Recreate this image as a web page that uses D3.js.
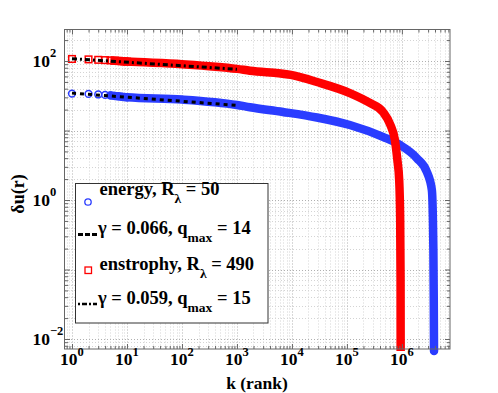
<!DOCTYPE html>
<html><head><meta charset="utf-8">
<script src="https://cdn.jsdelivr.net/npm/d3@7"></script>
<style>
body{margin:0;background:#fff}
svg{display:block}
</style>
</head><body><svg id="c" width="498" height="393"></svg>
<script>
// ---- data ----
const xDomain = [0.746, 7.5e6];
const yDomain = [0.00718, 284];
const xTickExps = [0, 1, 2, 3, 4, 5, 6];
const yTickExps = [-2, 0, 2];

const markerRanks = [1, 2, 3, 4, 5, 6, 7, 8, 9, 10];
const energyMarkers = [34.0, 33.6, 33.0, 32.5, 32.0, 31.6, 31.2, 30.8, 30.4, 30.0];
const enstrophyMarkers = [107, 105.5, 104, 103, 102, 101.2, 100.4, 99.6, 98.8, 98];

const energyRank  = [5, 10, 100, 1000, 1722, 6860, 28500, 113000, 452000, 920000, 1.87e6, 2.85e6, 3.51e6, 3.74e6, 3.80e6, 3.84e6];
const energyValue = [32.0, 30.0, 27.9, 23.3, 21.6, 18.5, 15.4, 12.0, 8.1, 6.2, 4.0, 2.53, 1.39, 0.19, 0.0364, 0.0067];

const enstrophyRank  = [5, 10, 100, 1000, 1722, 9590, 28500, 113000, 262000, 452000, 618000, 746000, 828000, 893000, 931000, 946000, 950000];
const enstrophyValue = [101.5, 98, 90, 77, 72.5, 63, 49.9, 34.6, 24.9, 18.5, 12.0, 7.3, 3.77, 1.94, 0.515, 0.0706, 0.0067];

const fitRank = [1, 1000];
const energyFit = [34.5, 23.0];
const enstrophyFit = [108, 76];

const legendRows = [
  [["energy, R", 0], ["λ", 1], [" = 50", 0]],
  [["γ = 0.066, q", 0], ["max", 1], [" = 14", 0]],
  [["enstrophy, R", 0], ["λ", 1], [" = 490", 0]],
  [["γ = 0.059, q", 0], ["max", 1], [" = 15", 0]]
];

const BLUE = "#2a3cff", RED = "#ff0000";
const FONT = "Liberation Serif";

// ---- scales ----
const svg = d3.select("#c");
const L = 65, R = 450, T = 29.5, B = 349;
const x = d3.scaleLog().domain(xDomain).range([L, R]);
const y = d3.scaleLog().domain(yDomain).range([B, T]);

function logValues(dom, minor) {
  const out = [];
  const e0 = Math.floor(Math.log10(dom[0])), e1 = Math.ceil(Math.log10(dom[1]));
  for (let e = e0; e <= e1; e++) {
    const ms = minor ? [2,3,4,5,6,7,8,9] : [1];
    for (const m of ms) {
      const v = m * Math.pow(10, e);
      if (v >= dom[0] && v <= dom[1]) out.push(v);
    }
  }
  return out;
}
const xMajor = logValues(xDomain, false), xMinor = logValues(xDomain, true);
const yMajor = logValues(yDomain, false), yMinor = logValues(yDomain, true);

function txt(parent) {
  return parent.append("text").attr("font-family", FONT).attr("font-weight", "bold").attr("fill", "#000");
}

// ---- grid ----
const grid = svg.append("g");
function vgrid(vals, col) {
  grid.selectAll(null).data(vals).enter().append("line")
    .attr("x1", d => Math.round(x(d)) + 0.5).attr("x2", d => Math.round(x(d)) + 0.5)
    .attr("y1", T).attr("y2", B)
    .attr("stroke", col).attr("stroke-width", 1).attr("stroke-dasharray", "1,2");
}
function hgrid(vals, col) {
  grid.selectAll(null).data(vals).enter().append("line")
    .attr("y1", d => Math.round(y(d)) + 0.5).attr("y2", d => Math.round(y(d)) + 0.5)
    .attr("x1", L).attr("x2", R)
    .attr("stroke", col).attr("stroke-width", 1).attr("stroke-dasharray", "1,2");
}
vgrid(xMinor, "#d4d4d4"); hgrid(yMinor, "#d4d4d4");
vgrid(xMajor, "#b0b0b0"); hgrid(yMajor, "#b0b0b0");

// ---- curves ----
const line = d3.line().x(d => x(d[0])).y(d => y(d[1])).curve(d3.curveMonotoneX);
const energyPts = energyRank.map((k, i) => [k, energyValue[i]]);
const enstPts = enstrophyRank.map((k, i) => [k, enstrophyValue[i]]);

svg.append("path").attr("d", line(energyPts)).attr("fill", "none")
  .attr("stroke", BLUE).attr("stroke-width", 8.5).attr("stroke-linecap", "round").attr("stroke-linejoin", "round");
svg.selectAll(null).data(markerRanks).enter().append("circle")
  .attr("cx", d => x(d)).attr("cy", (d, i) => y(energyMarkers[i])).attr("r", 3.4)
  .attr("fill", "none").attr("stroke", BLUE).attr("stroke-width", 1.5);

svg.append("path").attr("d", line(enstPts)).attr("fill", "none")
  .attr("stroke", RED).attr("stroke-width", 8.5).attr("stroke-linecap", "butt").attr("stroke-linejoin", "round");
svg.selectAll(null).data(markerRanks).enter().append("rect")
  .attr("x", d => x(d) - 3.3).attr("y", (d, i) => y(enstrophyMarkers[i]) - 3.3)
  .attr("width", 6.6).attr("height", 6.6)
  .attr("fill", "none").attr("stroke", RED).attr("stroke-width", 1.5);

// ---- fits ----
const fitLine = d3.line().x(d => x(d[0])).y(d => y(d[1]));
svg.append("path").attr("d", fitLine(fitRank.map((k, i) => [k, energyFit[i]])))
  .attr("fill", "none").attr("stroke", "#000").attr("stroke-width", 3).attr("stroke-dasharray", "4,4");
svg.append("path").attr("d", fitLine(fitRank.map((k, i) => [k, enstrophyFit[i]])))
  .attr("fill", "none").attr("stroke", "#000").attr("stroke-width", 3).attr("stroke-dasharray", "5,3,2,3");

// ---- frame & ticks ----
svg.append("rect").attr("x", L - 0.5).attr("y", T).attr("width", R - L + 0.5).attr("height", B - T)
  .attr("fill", "none").attr("stroke", "#666").attr("stroke-width", 1);

function ax(gen, tr, vals, size) {
  const g = svg.append("g").attr("transform", tr)
    .call(gen.tickValues(vals).tickSize(-size).tickFormat(() => ""));
  g.select(".domain").remove();
  g.selectAll(".tick line").attr("stroke", "#666");
  return g;
}
ax(d3.axisBottom(x), `translate(0,${B})`, xMajor, 5);
ax(d3.axisBottom(x), `translate(0,${B})`, xMinor, 3);
ax(d3.axisTop(x), `translate(0,${T})`, xMajor, 5);
ax(d3.axisTop(x), `translate(0,${T})`, xMinor, 3);
ax(d3.axisLeft(y), `translate(${L},0)`, yMajor, 5);
ax(d3.axisLeft(y), `translate(${L},0)`, yMinor, 3);
ax(d3.axisRight(y), `translate(${R},0)`, yMajor, 5);
ax(d3.axisRight(y), `translate(${R},0)`, yMinor, 3);

// ---- tick labels ----
xTickExps.forEach(e => {
  const t = txt(svg).attr("x", x(Math.pow(10, e))).attr("y", 365)
    .attr("text-anchor", "middle").attr("font-size", 17.5);
  t.append("tspan").text("10");
  t.append("tspan").attr("dy", -9.5).attr("font-size", 12.5).text(String(e).replace("-", "\u2212"));
});
yTickExps.forEach(e => {
  const t = txt(svg).attr("x", 32.5).attr("y", y(Math.pow(10, e)) + 6)
    .attr("text-anchor", "start").attr("font-size", 17.5);
  t.append("tspan").text("10");
  t.append("tspan").attr("dy", -10.5).attr("font-size", 12.5).text(String(e).replace("-", "\u2212"));
});

// ---- axis titles ----
txt(svg).attr("x", 257).attr("y", 388.5).attr("text-anchor", "middle")
  .attr("font-size", 17.5).text("k (rank)");
txt(svg).attr("transform", "translate(24,194) rotate(-90)").attr("text-anchor", "middle")
  .attr("font-size", 18).text("δu(r)");

// ---- legend ----
const lg = svg.append("g");
lg.append("rect").attr("x", 75.5).attr("y", 183.5).attr("width", 192.5).attr("height", 139.5)
  .attr("fill", "#fff").attr("stroke", "#333").attr("stroke-width", 1);
const rowBase = [195, 234, 269.5, 304];
const rowX = [99.5, 98, 99.5, 98];
legendRows.forEach((parts, r) => {
  const t = txt(lg).attr("x", rowX[r]).attr("y", rowBase[r]).attr("font-size", 18.5);
  let shifted = false;
  parts.forEach(([s, sub]) => {
    const sp = t.append("tspan").text(s);
    if (sub) { sp.attr("dy", 8).attr("font-size", 13.5); shifted = true; }
    else if (shifted) { sp.attr("dy", -8); shifted = false; }
  });
});
lg.append("circle").attr("cx", 88).attr("cy", 202).attr("r", 3.2)
  .attr("fill", "none").attr("stroke", BLUE).attr("stroke-width", 1.3);
lg.append("rect").attr("x", 85).attr("y", 267).attr("width", 6.5).attr("height", 6.5)
  .attr("fill", "none").attr("stroke", RED).attr("stroke-width", 1.3);
lg.append("line").attr("x1", 78).attr("x2", 97).attr("y1", 234.5).attr("y2", 234.5)
  .attr("stroke", "#000").attr("stroke-width", 3).attr("stroke-dasharray", "5,2");
lg.append("line").attr("x1", 78).attr("x2", 97).attr("y1", 304).attr("y2", 304)
  .attr("stroke", "#000").attr("stroke-width", 2.5).attr("stroke-dasharray", "2,2,5,2");
</script>
</body></html>
